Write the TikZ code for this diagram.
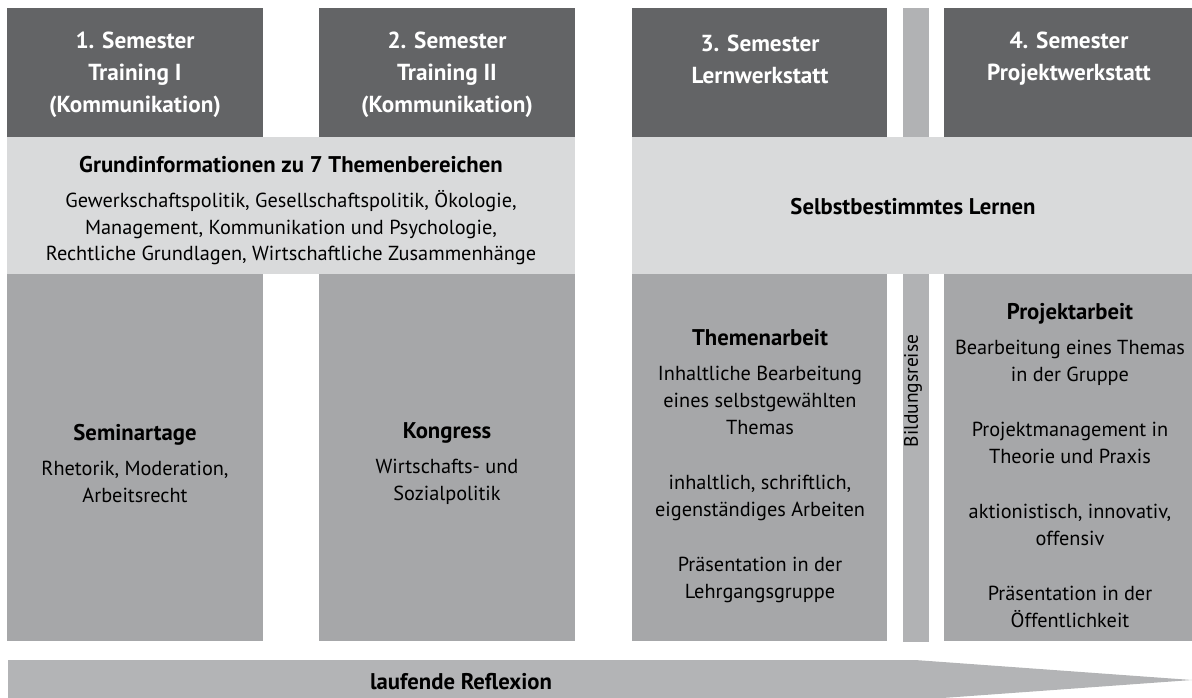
\documentclass[tikz,border=0pt]{standalone}
\usepackage{fontspec}
\setmainfont{PT Sans}
\definecolor{hdrc}{HTML}{636466}
\definecolor{bandc}{HTML}{D9DADB}
\definecolor{bodyc}{HTML}{A6A7A9}
\definecolor{stripc}{HTML}{B1B2B4}
\definecolor{arrowc}{HTML}{B3B4B6}
\newcommand{\hd}[1]{{\fontsize{22.7}{27}\selectfont\bfseries #1}}
\begin{document}
\begin{tikzpicture}[x=1pt,y=-1pt,
  hdrtext/.style={text=white,font=\fontsize{23.2}{32}\selectfont\bfseries,align=center,inner sep=0pt},
  bodytext/.style={text=black,font=\fontsize{20.3}{27}\selectfont,align=center,inner sep=0pt},
  bandhead/.style={text=black,font=\fontsize{22.7}{27}\selectfont\bfseries,align=center,inner sep=0pt}]
\useasboundingbox (0,0) rectangle (1192,698);
% Bildungsreise strip (behind band)
\fill[stripc] (903,8) rectangle (929,642);
% headers
\fill[hdrc] (7,8) rectangle (263,137);
\fill[hdrc] (319,8) rectangle (575,137);
\fill[hdrc] (632,8) rectangle (887,137);
\fill[hdrc] (944,8) rectangle (1192,137);
% bands
\fill[bandc] (7,137) rectangle (575,274);
\fill[bandc] (632,137) rectangle (1192,274);
% bodies
\fill[bodyc] (7,274) rectangle (263,641);
\fill[bodyc] (319,274) rectangle (575,641);
\fill[bodyc] (632,274) rectangle (887,641);
\fill[bodyc] (944,274) rectangle (1192,641);
% arrow
\fill[arrowc] (8,660) -- (915,660) -- (1192,680) -- (915,700) -- (8,700) -- cycle;

% header texts
\node[hdrtext] (h1) at (135,75) {1. Semester\\Training I\\(Kommunikation)};
\node[hdrtext] (h2) at (447,75) {2. Semester\\Training II\\(Kommunikation)};
\node[hdrtext] (h3) at (760,59) {3. Semester\\Lernwerkstatt};
\node[hdrtext] (h4) at (1069,59) {4. Semester\\Projektwerkstatt};

% band texts
\node[bodytext,font=\fontsize{20.3}{26.5}\selectfont] (b1) at (291,210.5) {\hd{Grundinformationen zu 7 Themenbereichen}\\[9pt]
Gewerkschaftspolitik, Gesellschaftspolitik, Ökologie,\\
Management, Kommunikation und Psychologie,\\
Rechtliche Grundlagen, Wirtschaftliche Zusammenhänge};
\node[bandhead] (b2) at (913,207) {Selbstbestimmtes Lernen};

% body texts
\node[bodytext] (c1) at (135,464) {\hd{Seminartage}\\[8pt]Rhetorik, Moderation,\\Arbeitsrecht};
\node[bodytext] (c2) at (447,464) {\hd{Kongress}\\[8pt]Wirtschafts- und\\Sozialpolitik};
\node[bodytext] (c3) at (760,466) {\hd{Themenarbeit}\\[8pt]Inhaltliche Bearbeitung\\eines selbstgewählten\\Themas\\[28pt]inhaltlich, schriftlich,\\eigenständiges Arbeiten\\[28pt]Präsentation in der\\Lehrgangsgruppe};
\node[bodytext] (c4) at (1070,466) {\hd{Projektarbeit}\\[8pt]Bearbeitung eines Themas\\in der Gruppe\\[28pt]Projektmanagement in\\Theorie und Praxis\\[28pt]aktionistisch, innovativ,\\offensiv\\[28pt]Präsentation in der\\Öffentlichkeit};

% strip label
\node[bodytext,font=\fontsize{19.5}{24}\selectfont,rotate=90] (br) at (913,391) {Bildungsreise};

% arrow label
\node[bandhead] (ar) at (461,682) {laufende Reflexion};
\end{tikzpicture}
\end{document}
